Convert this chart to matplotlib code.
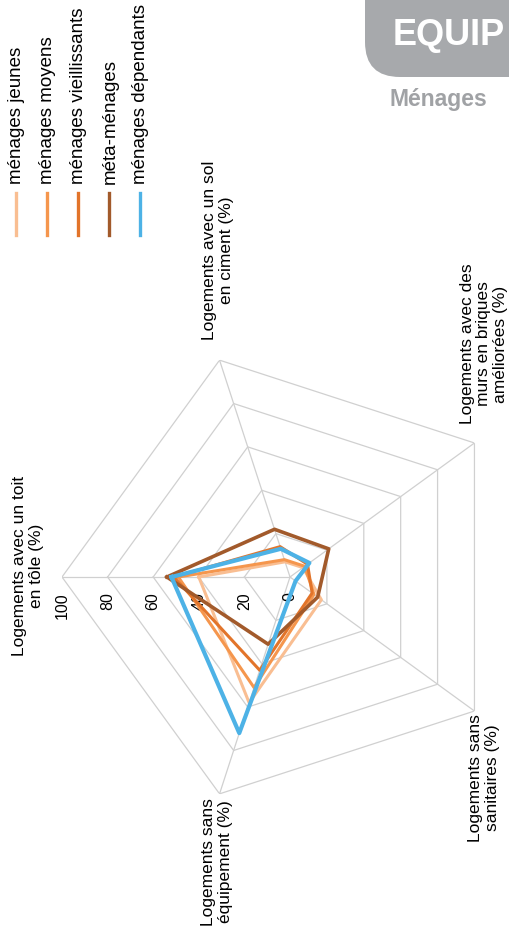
import numpy as np
import matplotlib
matplotlib.use('Agg')
import matplotlib.pyplot as plt
from matplotlib.patches import FancyBboxPatch

plt.rcParams['font.family'] = ['Liberation Sans', 'DejaVu Sans']

# axes du radar (dans l'ordre, sens horaire)
axes_labels = [
    'Logements avec un toit\nen tôle (%)',
    'Logements avec un sol\nen ciment (%)',
    'Logements avec des\nmurs en briques\naméliorées (%)',
    'Logements sans\nsanitaires (%)',
    'Logements sans\néquipement (%)',
]
series_names = ['ménages jeunes', 'ménages moyens', 'ménages vieillissants',
                'méta-ménages', 'ménages dépendants']
jeunes = [40, 7, 7, 17, 58]
moyens = [49, 8, 8, 13, 51]
vieillissants = [51, 14, 9.5, 12, 43]
meta = [54, 22, 21, 15, 31]
dependants = [52, 13, 10.5, 3, 72]
ticks = [0, 20, 40, 60, 80, 100]

colors = ['#f9be92', '#f5964d', '#e2742a', '#a25a2b', '#4db2e6']
widths = [2.2, 2.2, 2.2, 2.6, 3.0]

W, H = 509, 935
fig = plt.figure(figsize=(W / 100, H / 100), dpi=100)

# centre et rayon du radar en pixels (le graphique est tourné de 90°)
cx, cy, rad = 290, 577, 228
ax = fig.add_axes([(cx - rad) / W, (H - cy - rad) / H, 2 * rad / W, 2 * rad / H],
                  projection='polar')
ax.set_theta_offset(np.pi)
ax.set_theta_direction(-1)
ax.set_ylim(0, 100)
ax.grid(False)
ax.spines['polar'].set_visible(False)
ax.set_xticks([])
ax.set_yticks([])
ax.patch.set_alpha(0)

theta = np.linspace(0, 2 * np.pi, len(axes_labels), endpoint=False)
closed = np.append(theta, theta[0])

# grille pentagonale
for t in ticks[1:]:
    ax.plot(closed, [t] * len(closed), color='#d0d0d0', lw=0.9, zorder=1)
for th in theta:
    ax.plot([th, th], [0, ticks[-1]], color='#d0d0d0', lw=0.9, zorder=1)

for t in ticks:
    ax.annotate(str(t), xy=(0, t), xytext=(0, -11), textcoords='offset points',
                rotation=90, rotation_mode='anchor', ha='right', va='center',
                fontsize=11.5, annotation_clip=False)

all_series = [jeunes, moyens, vieillissants, meta, dependants]
for vals, col, lw in zip(all_series, colors, widths):
    ax.plot(closed, vals + [vals[0]], color=col, lw=lw, solid_joinstyle='round', zorder=3)

# calque en pixels pour les textes, la légende et l'en-tête
ov = fig.add_axes([0, 0, 1, 1])
ov.set_xlim(0, W)
ov.set_ylim(H, 0)
ov.axis('off')

label_pos = [(28, 566), (218, 250), (484, 344), (484, 778), (217, 862)]
for (x, y), lab in zip(label_pos, axes_labels):
    ov.text(x, y, lab, rotation=90, ha='center', va='center', multialignment='center',
            fontsize=12.5, linespacing=1.15)

# légende
leg_x = [16, 47, 78, 109, 140]
for x, name, col in zip(leg_x, series_names, colors):
    ov.plot([x, x], [193, 235], color=col, lw=2.4)
    ov.text(x + 1, 184, name, rotation=90, rotation_mode='anchor', ha='left', va='center',
            fontsize=13.5)

# en-tête
ov.add_patch(FancyBboxPatch((365, -80), 220, 157, boxstyle='round,pad=0,rounding_size=35',
                            fc='#a7a9ac', ec='none'))
ov.text(393, 45, 'EQUIP', color='white', fontsize=26, fontweight='bold', va='baseline')
ov.text(390, 106, 'Ménages', color='#a0a2a5', fontsize=16.5, fontweight='bold', va='baseline')

fig.savefig('out.png', dpi=100)
